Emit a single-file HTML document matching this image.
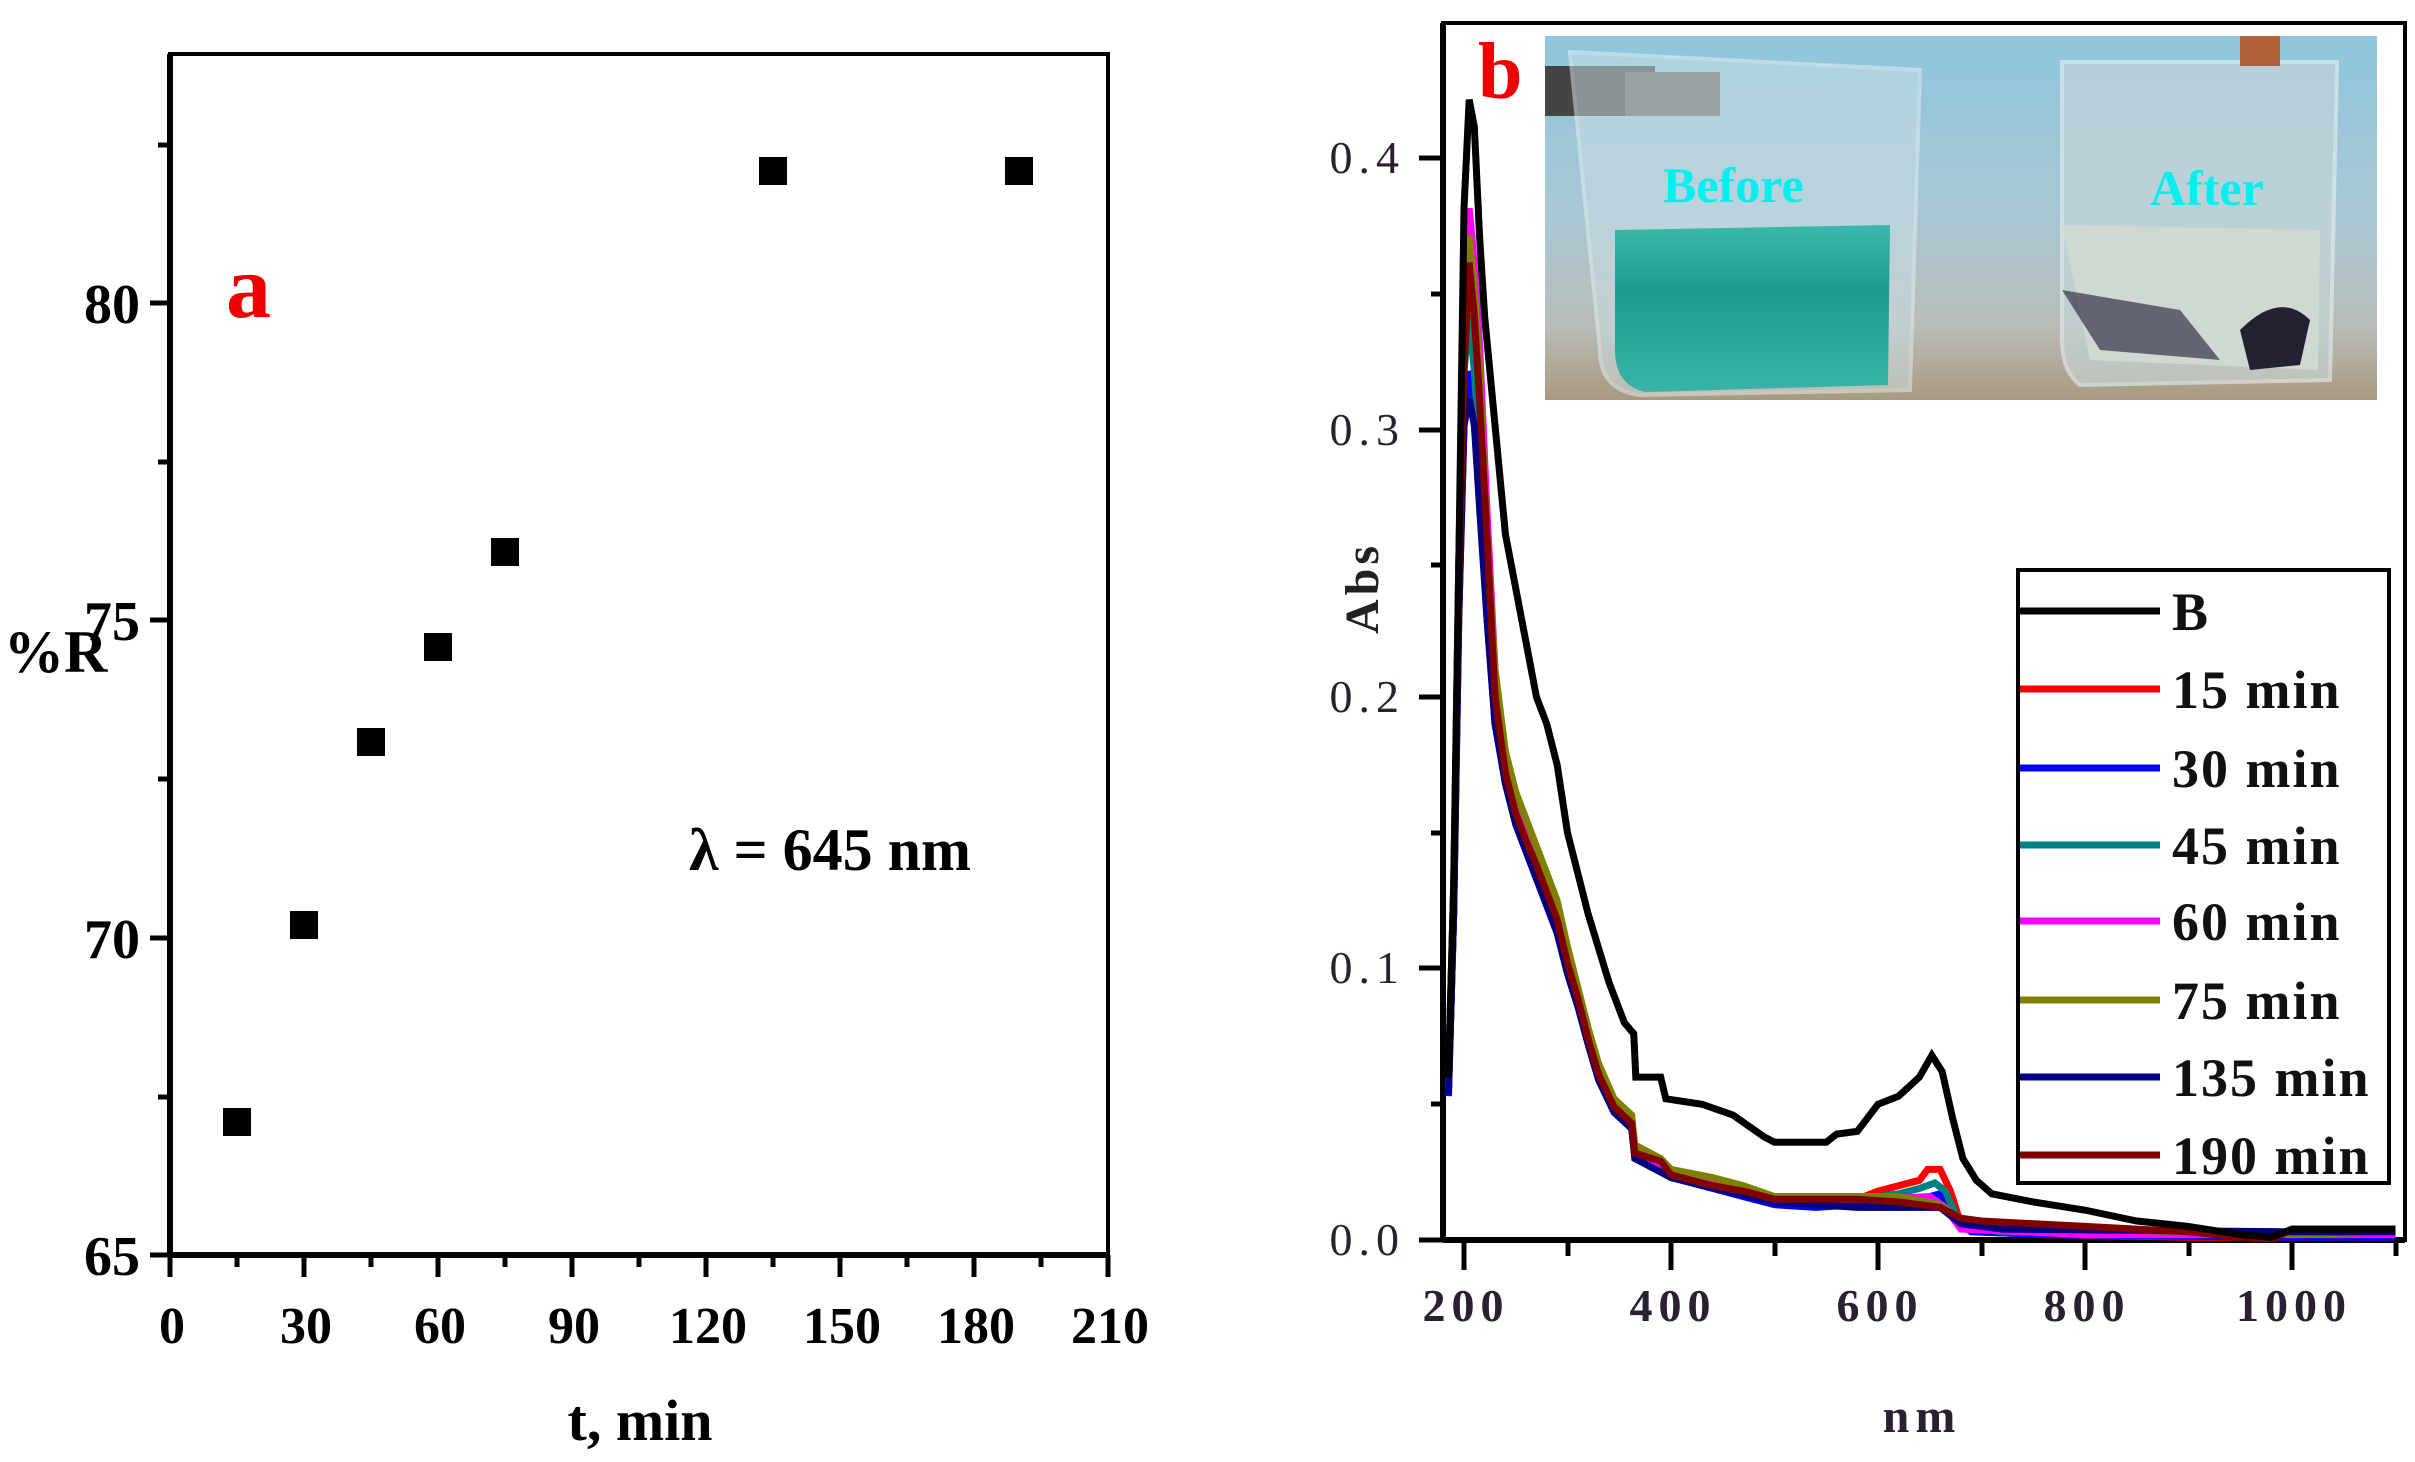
<!DOCTYPE html>
<html><head><meta charset="utf-8"><style>
html,body{margin:0;padding:0;background:#fff;}
svg{display:block;}
text{font-family:"Liberation Serif",serif;}
</style></head><body>
<svg width="2415" height="1462" viewBox="0 0 2415 1462" xmlns="http://www.w3.org/2000/svg">
<rect width="2415" height="1462" fill="#fff"/>
<!-- Panel a -->
<g stroke="#000" stroke-width="5" fill="none">
<rect x="170" y="54" width="938" height="1201" stroke-width="4"/>
<line x1="170" y1="1255" x2="1108" y2="1255" stroke-width="6"/>
<line x1="170" y1="54" x2="170" y2="1255" stroke-width="6"/>
<path d="M170 1255h-20M170 938h-20M170 620h-20M170 303h-20M170 1097h-12M170 779h-12M170 462h-12M170 145h-12"/>
<path d="M170 1255v22M304 1255v22M438 1255v22M572 1255v22M706 1255v22M840 1255v22M974 1255v22M1108 1255v22M237 1255v12M371 1255v12M505 1255v12M639 1255v12M773 1255v12M907 1255v12M1041 1255v12"/>
</g>
<g fill="#000">
<rect x="223" y="1108" width="28" height="28"/>
<rect x="290" y="911" width="28" height="28"/>
<rect x="357" y="728" width="28" height="28"/>
<rect x="424" y="633" width="28" height="28"/>
<rect x="491" y="538" width="28" height="28"/>
<rect x="759" y="157" width="28" height="28"/>
<rect x="1005" y="157" width="28" height="28"/>
</g>
<g font-weight="bold" font-size="56" text-anchor="end">
<text x="140" y="1275">65</text><text x="140" y="958">70</text><text x="140" y="640">75</text><text x="140" y="323">80</text>
</g>
<g font-weight="bold" font-size="52" text-anchor="middle">
<text x="172" y="1343">0</text><text x="306" y="1343">30</text><text x="440" y="1343">60</text><text x="574" y="1343">90</text><text x="708" y="1343">120</text><text x="842" y="1343">150</text><text x="976" y="1343">180</text><text x="1110" y="1343">210</text>
<text x="640" y="1440" font-size="58">t, min</text>
</g>
<text x="4" y="672" font-weight="bold" font-size="60">%R</text>
<text x="689" y="870" font-weight="bold" font-size="60">λ = 645 nm</text>
<text x="226" y="317" font-weight="bold" font-size="90" fill="#e00">a</text>

<!-- Panel b -->
<defs>
<clipPath id="cb"><rect x="1445" y="23" width="960" height="1219"/></clipPath>
<linearGradient id="bg" x1="0" y1="0" x2="0" y2="1"><stop offset="0" stop-color="#8ec6dc"/><stop offset="0.5" stop-color="#a9c7d3"/><stop offset="0.8" stop-color="#b9bcb8"/><stop offset="1" stop-color="#a89a80"/></linearGradient>
<linearGradient id="teal" x1="0" y1="0" x2="0" y2="1"><stop offset="0" stop-color="#3bb8ac"/><stop offset="0.4" stop-color="#1e9c8d"/><stop offset="1" stop-color="#38b3a8"/></linearGradient>
</defs>
<rect x="1545" y="36" width="832" height="364" fill="url(#bg)"/>
<rect x="1545" y="66" width="110" height="50" fill="#444"/>
<rect x="1625" y="72" width="95" height="44" fill="#666"/>
<path d="M1570 52 L1920 70 L1910 390 L1640 395 Q1600 390 1600 350 Z" fill="#cde0e6" opacity="0.5" stroke="#e8f2f4" stroke-width="4"/>
<path d="M1615 230 L1890 225 L1888 385 L1645 392 Q1615 385 1615 350 Z" fill="url(#teal)"/>
<path d="M2062 62 L2337 62 L2330 380 L2080 385 Q2060 370 2062 330 Z" fill="#c9d8da" opacity="0.6" stroke="#e8f2f4" stroke-width="4"/>
<path d="M2062 225 L2320 230 L2318 370 L2090 360 Z" fill="#d0d8d2"/>
<path d="M2062 290 L2180 310 L2220 360 L2100 350 Z" fill="#334" opacity="0.7"/>
<path d="M2240 330 Q2280 290 2310 320 L2300 365 L2250 370 Z" fill="#223"/>
<rect x="2240" y="36" width="40" height="30" fill="#b0603a"/>
<text x="1663" y="202" font-weight="bold" font-size="50" fill="#00f0f0">Before</text>
<text x="2150" y="205" font-weight="bold" font-size="50" fill="#00f0f0">After</text>

<g stroke="#000" fill="none">
<rect x="1443" y="23" width="962" height="1217" stroke-width="4"/>
<line x1="1443" y1="1240" x2="2405" y2="1240" stroke-width="6"/>
<line x1="1443" y1="23" x2="1443" y2="1240" stroke-width="6"/>
<g stroke-width="5">
<path d="M1443 1240h-24M1443 968h-24M1443 697h-24M1443 430h-24M1443 158h-24M1443 1104h-12M1443 833h-12M1443 565h-12M1443 294h-12"/>
<path d="M1464 1240v30M1671 1240v30M1878 1240v30M2085 1240v30M2292 1240v30M1568 1240v16M1775 1240v16M1982 1240v16M2189 1240v16M2396 1240v16"/>
</g>
</g>
<g font-size="46" fill="#2a2030" text-anchor="end" letter-spacing="6">
<text x="1405" y="1255">0.0</text><text x="1405" y="983">0.1</text><text x="1405" y="712">0.2</text><text x="1405" y="445">0.3</text><text x="1405" y="173">0.4</text>
</g>
<g font-size="46" fill="#2a2030" text-anchor="middle" letter-spacing="6" font-weight="bold">
<text x="1466" y="1321">200</text><text x="1673" y="1321">400</text><text x="1880" y="1321">600</text><text x="2087" y="1321">800</text><text x="2294" y="1321">1000</text>
<text x="1922" y="1432" font-size="48">nm</text>
</g>
<text transform="translate(1378,588) rotate(-90)" font-size="48" font-weight="bold" fill="#222" text-anchor="middle" letter-spacing="4">Abs</text>
<text x="1478" y="98" font-weight="bold" font-size="80" fill="#e00">b</text>

<g clip-path="url(#cb)" fill="none" stroke-width="7" stroke-linejoin="miter">
<g transform="matrix(1.035,0,0,-2715,1257,1240)">
<polyline vector-effect="non-scaling-stroke" stroke="#f00" points="185,0.055 190,0.12 195,0.25 200,0.34 205,0.36 210,0.33 215,0.3 222,0.25 230,0.2 240,0.175 250,0.16 260,0.148 270,0.14 280,0.13 290,0.12 300,0.105 310,0.09 320,0.075 330,0.062 345,0.05 362,0.044 365,0.033 390,0.03 400,0.025 440,0.02 470,0.017 500,0.014 540,0.013 580,0.015 600,0.018 620,0.02 640,0.022 648,0.026 660,0.026 670,0.018 680,0.006 700,0.003 760,0.002 900,0.001 1000,0.001 1100,0.001"/>
<polyline vector-effect="non-scaling-stroke" stroke="#00f" points="185,0.053 190,0.12 195,0.23 200,0.3 205,0.32 210,0.31 215,0.28 222,0.23 230,0.19 240,0.17 250,0.155 260,0.145 270,0.135 280,0.125 290,0.115 300,0.1 310,0.088 320,0.073 330,0.06 345,0.048 362,0.042 365,0.031 390,0.028 400,0.023 440,0.019 470,0.016 500,0.013 540,0.012 580,0.013 640,0.015 660,0.017 675,0.008 690,0.003 760,0.002 1000,0.001 1100,0.001"/>
<polyline vector-effect="non-scaling-stroke" stroke="#008080" points="185,0.055 190,0.12 195,0.24 200,0.32 205,0.34 210,0.32 215,0.29 222,0.24 230,0.2 240,0.172 250,0.158 260,0.146 270,0.138 280,0.128 290,0.118 300,0.103 310,0.089 320,0.074 330,0.061 345,0.049 362,0.043 365,0.032 390,0.029 400,0.024 440,0.02 500,0.014 580,0.015 620,0.017 640,0.019 655,0.021 665,0.018 680,0.005 720,0.003 1000,0.002 1100,0.002"/>
<polyline vector-effect="non-scaling-stroke" stroke="#f0f" points="185,0.056 190,0.12 195,0.25 200,0.35 205,0.38 210,0.36 215,0.33 222,0.27 230,0.21 240,0.178 250,0.16 260,0.15 270,0.14 280,0.13 290,0.12 300,0.104 310,0.09 320,0.075 330,0.062 345,0.05 362,0.044 365,0.033 400,0.025 500,0.015 600,0.015 650,0.016 665,0.012 680,0.004 800,0.002 1000,0.002 1100,0.002"/>
<polyline vector-effect="non-scaling-stroke" stroke="#808000" points="185,0.06 190,0.13 195,0.25 200,0.34 205,0.37 210,0.35 215,0.32 222,0.26 230,0.21 240,0.18 250,0.165 260,0.155 270,0.145 280,0.135 290,0.125 300,0.108 310,0.093 320,0.078 330,0.065 345,0.052 362,0.046 365,0.035 390,0.03 400,0.026 440,0.023 470,0.02 500,0.016 580,0.016 620,0.016 660,0.013 670,0.01 680,0.007 800,0.004 1000,0.002 1100,0.003"/>
<polyline vector-effect="non-scaling-stroke" stroke="#000080" points="185,0.054 190,0.12 195,0.23 200,0.3 205,0.31 210,0.3 215,0.27 222,0.23 230,0.19 240,0.168 250,0.153 260,0.143 270,0.133 280,0.123 290,0.113 300,0.098 310,0.086 320,0.072 330,0.059 345,0.047 362,0.041 365,0.03 400,0.023 500,0.014 580,0.012 660,0.012 680,0.006 720,0.004 1000,0.003 1100,0.003"/>
<polyline vector-effect="non-scaling-stroke" stroke="#800000" points="185,0.06 190,0.13 195,0.24 200,0.32 205,0.36 210,0.34 215,0.31 222,0.26 230,0.2 240,0.172 250,0.157 260,0.147 270,0.138 280,0.128 290,0.118 300,0.102 310,0.089 320,0.074 330,0.061 345,0.049 362,0.043 365,0.032 390,0.029 400,0.024 440,0.02 470,0.018 500,0.015 580,0.015 620,0.014 660,0.012 670,0.01 680,0.008 700,0.007 800,0.005 900,0.003 950,0.001 980,0 1000,0.004 1100,0.004"/>
<polyline vector-effect="non-scaling-stroke" stroke="#000" points="185,0.06 190,0.13 195,0.25 200,0.38 205,0.42 210,0.41 215,0.37 220,0.34 230,0.3 240,0.26 250,0.24 260,0.22 270,0.2 280,0.19 290,0.175 300,0.15 320,0.12 340,0.095 355,0.08 364,0.076 366,0.06 390,0.06 395,0.052 430,0.05 460,0.046 490,0.038 500,0.036 550,0.036 560,0.039 580,0.04 600,0.05 620,0.053 640,0.06 652,0.068 662,0.062 672,0.045 682,0.03 695,0.022 710,0.017 750,0.014 800,0.011 850,0.007 900,0.005 950,0.002 980,0.001 1000,0.004 1100,0.004"/>
</g>
</g>

<!-- legend -->
<rect x="2018" y="570" width="371" height="613" fill="#fff" stroke="#000" stroke-width="4"/>
<g stroke-width="7">
<line x1="2020" y1="611" x2="2160" y2="611" stroke="#000"/>
<line x1="2020" y1="689" x2="2160" y2="689" stroke="#f00"/>
<line x1="2020" y1="768" x2="2160" y2="768" stroke="#00f"/>
<line x1="2020" y1="845" x2="2160" y2="845" stroke="#008080"/>
<line x1="2020" y1="921" x2="2160" y2="921" stroke="#f0f"/>
<line x1="2020" y1="1000" x2="2160" y2="1000" stroke="#808000"/>
<line x1="2020" y1="1077" x2="2160" y2="1077" stroke="#000080"/>
<line x1="2020" y1="1155" x2="2160" y2="1155" stroke="#800000"/>
</g>
<g font-weight="bold" font-size="54" fill="#111" letter-spacing="2">
<text x="2172" y="630">B</text>
<text x="2172" y="708">15 min</text>
<text x="2172" y="787">30 min</text>
<text x="2172" y="864">45 min</text>
<text x="2172" y="940">60 min</text>
<text x="2172" y="1019">75 min</text>
<text x="2172" y="1096">135 min</text>
<text x="2172" y="1174">190 min</text>
</g>
</svg>
</body></html>
